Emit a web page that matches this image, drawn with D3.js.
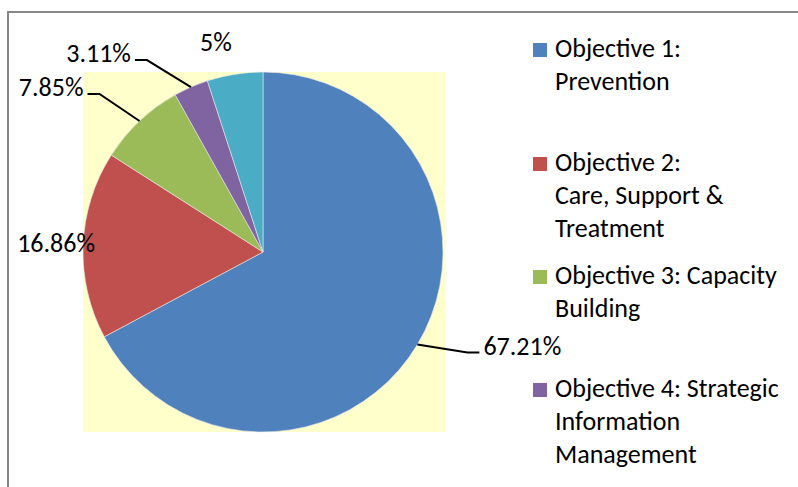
<!DOCTYPE html>
<html><head><meta charset="utf-8">
<script src="https://cdn.jsdelivr.net/npm/d3@7/dist/d3.min.js"></script>
<style>body{margin:0;background:#fff;overflow:hidden}</style>
</head><body>
<svg id="chart" width="798" height="487"></svg>
<script>
// ---- data ----
const categories = ["Objective 1: Prevention", "Objective 2: Care, Support & Treatment", "Objective 3: Capacity Building", "Objective 4: Strategic Information Management", "Objective 5"];
const values = [67.21, 16.86, 7.85, 3.11, 5];
const valueLabels = ["67.21%", "16.86%", "7.85%", "3.11%", "5%"];
const legendLines = [["Objective 1:", "Prevention"], ["Objective 2:", "Care, Support &", "Treatment"], ["Objective 3: Capacity", "Building"], ["Objective 4: Strategic", "Information", "Management"]];
const colors = ["#4F81BD", "#C0504D", "#9BBB59", "#8064A2", "#4BACC6"];

// ---- layout ----
const W = 798, H = 487;
const cx = 263, cy = 252, r = 180;
const FONT = "Calibri, Carlito, Lato, sans-serif";
const FS = 26;
// label placement relative to the slice's outer mid point
const labelLayout = [
  {leader: true, dx: 50, dy: 8, side: 1},
  {leader: false, dx: -27, dy: 7},
  {leader: true, dx: -40, dy: -27, side: -1},
  {leader: true, dx: -44, dy: -27, side: -1},
  {leader: false, dx: -19, dy: -23}
];

const svg = d3.select("#chart");
svg.append("rect").attr("width", W).attr("height", H).attr("fill", "#fff");
// chart border (clipped by the window on right/bottom)
svg.append("rect").attr("x", 8).attr("y", 12).attr("width", 820).attr("height", 520)
  .attr("fill", "none").attr("stroke", "#878787").attr("stroke-width", 2);

// plot area
svg.append("rect").attr("x", cx - r).attr("y", cy - r).attr("width", 2 * r + 2).attr("height", 2 * r)
  .attr("fill", "#FFFFCC");

const pie = d3.pie().sort(null).value(d => d);
const arcs = pie(values);
const arc = d3.arc().innerRadius(0).outerRadius(r);
const g = svg.append("g").attr("transform", `translate(${cx},${cy})`);
g.selectAll("path").data(arcs).join("path")
  .attr("d", arc)
  .attr("fill", (d, i) => colors[i])
  .attr("stroke", "#e8e8e8").attr("stroke-width", 0.6);

// labels
arcs.forEach((a, i) => {
  const mid = (a.startAngle + a.endAngle) / 2;
  const ex = cx + r * Math.sin(mid), ey = cy - r * Math.cos(mid);
  const L = labelLayout[i];
  const bx = ex + L.dx, by = ey + L.dy;
  if (L.leader) {
    const hx = bx + 12 * L.side;
    svg.append("polyline")
      .attr("points", `${ex},${ey} ${bx},${by} ${hx},${by}`)
      .attr("fill", "none").attr("stroke", "#000").attr("stroke-width", 2);
    svg.append("text")
      .attr("x", hx + 4 * L.side).attr("y", by + 2)
      .attr("text-anchor", L.side > 0 ? "start" : "end")
      .attr("font-family", FONT).attr("font-size", FS).attr("fill", "#000")
      .text(valueLabels[i]);
  } else {
    svg.append("text")
      .attr("x", bx).attr("y", by)
      .attr("text-anchor", "middle")
      .attr("font-family", FONT).attr("font-size", FS).attr("fill", "#000")
      .text(valueLabels[i]);
  }
});

// legend
const legBase = [57, 171, 284, 397];
const lineH = 33;
legendLines.forEach((lines, i) => {
  const y0 = legBase[i];
  svg.append("rect").attr("x", 533).attr("y", y0 - 14).attr("width", 14).attr("height", 14)
    .attr("fill", colors[i]);
  lines.forEach((t, j) => {
    svg.append("text").attr("x", 555).attr("y", y0 + j * lineH)
      .attr("font-family", FONT).attr("font-size", FS).attr("fill", "#000")
      .text(t);
  });
});
</script>
</body></html>
